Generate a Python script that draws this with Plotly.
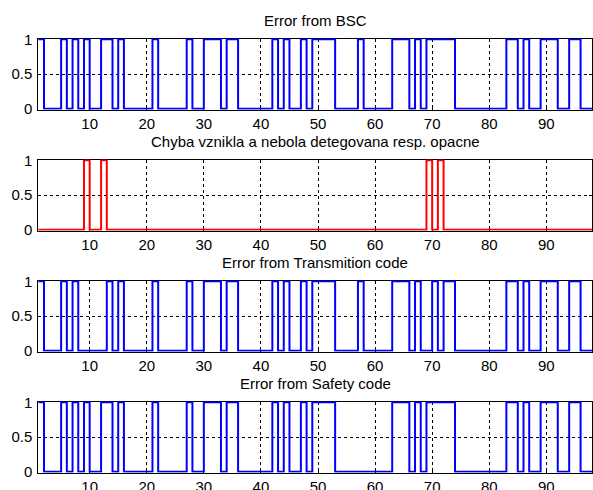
import plotly.graph_objects as go

# sample index (stairs)
samples = list(range(1, 99))

err_bsc = [1,0,0,0,1,0,1,0,1,0,
           0,1,1,0,1,0,0,0,0,0,
           1,0,0,0,0,0,1,0,0,1,
           1,1,0,1,1,0,0,0,0,0,
           0,1,0,1,0,0,1,0,1,1,
           1,1,0,0,0,0,1,0,0,0,
           0,0,1,1,1,0,1,0,1,1,
           1,1,1,0,0,0,0,0,0,0,
           0,0,1,1,0,1,0,0,1,1,
           1,0,0,1,1,0,0,0]

err_undetected = [0,0,0,0,0,0,0,0,1,0,
                  0,1,0,0,0,0,0,0,0,0,
                  0,0,0,0,0,0,0,0,0,0,
                  0,0,0,0,0,0,0,0,0,0,
                  0,0,0,0,0,0,0,0,0,0,
                  0,0,0,0,0,0,0,0,0,0,
                  0,0,0,0,0,0,0,0,1,0,
                  1,0,0,0,0,0,0,0,0,0,
                  0,0,0,0,0,0,0,0,0,0,
                  0,0,0,0,0,0,0,0]

err_transmition = [1,0,0,0,1,0,1,0,0,0,
                   0,0,1,0,1,0,0,0,0,0,
                   1,0,0,0,0,0,1,0,0,1,
                   1,1,0,1,1,0,0,0,0,0,
                   0,1,0,1,0,0,1,0,1,1,
                   1,1,0,0,0,0,1,0,0,0,
                   0,0,1,1,1,0,1,0,0,1,
                   0,1,1,0,0,0,0,0,0,0,
                   0,0,1,1,0,1,0,0,1,1,
                   1,0,0,1,1,0,0,0]

err_safety = [1,0,0,0,1,0,1,0,1,0,
              0,1,1,0,1,0,0,0,0,0,
              1,0,0,0,0,0,1,0,0,1,
              1,1,0,1,1,0,0,0,0,0,
              0,1,0,1,0,0,1,0,1,1,
              1,1,0,0,0,0,0,0,0,0,
              0,0,1,1,1,0,1,0,1,1,
              1,1,1,0,0,0,0,0,0,0,
              0,0,1,1,0,1,0,0,1,1,
              1,0,0,1,1,0,0,0]

titles = ["Error from BSC",
          "Chyba vznikla a nebola detegovana resp. opacne",
          "Error from Transmition code",
          "Error from Safety code"]
series = [err_bsc, err_undetected, err_transmition, err_safety]
colors = ["#0000FF", "#FF0000", "#0000FF", "#0000FF"]

x_ticks = [10, 20, 30, 40, 50, 60, 70, 80, 90]
y_ticks = [0, 0.5, 1]
y_ticktext = ["0", "0.5", "1"]

W, H = 593, 490
x_left, x_right = 38.3, 592.0
panel_tops = [38.5, 159.5, 280.5, 401.5]
panel_h = 71.0

font = dict(family="Liberation Sans, Arial, sans-serif", size=15, color="black")

fig = go.Figure()
layout = dict(
    width=W, height=H,
    margin=dict(l=0, r=0, t=0, b=0, autoexpand=False),
    paper_bgcolor="white", plot_bgcolor="white",
    showlegend=False,
    font=font,
    annotations=[],
)

for i, (vals, col, ttl) in enumerate(zip(series, colors, titles)):
    n = "" if i == 0 else str(i + 1)
    fig.add_trace(go.Scatter(
        x=samples, y=vals, mode="lines",
        line=dict(color=col, width=2, shape="hv"),
        xaxis="x" + n, yaxis="y" + n, hoverinfo="skip",
    ))
    top = panel_tops[i]
    y0 = 1 - (top + panel_h) / H
    y1 = 1 - top / H
    layout["xaxis" + n] = dict(
        domain=[x_left / W, x_right / W], range=[1, 98],
        anchor="y" + n, tickvals=x_ticks, ticks="inside", ticklen=3,
        tickcolor="black", automargin=False,
        showline=True, linecolor="black", linewidth=1, mirror="ticks",
        showgrid=True, gridcolor="black", griddash="3px,3px", gridwidth=1,
        zeroline=False, tickfont=font, ticklabelstandoff=0,
        layer="below traces",
    )
    layout["yaxis" + n] = dict(
        domain=[y0, y1], range=[-0.012, 1.012],
        anchor="x" + n, tickvals=y_ticks, ticktext=y_ticktext,
        ticks="inside", ticklen=3, tickcolor="black", automargin=False,
        showline=True, linecolor="black", linewidth=1, mirror="ticks",
        showgrid=True, gridcolor="black", griddash="3px,3px", gridwidth=1,
        zeroline=False, tickfont=font, ticklabelstandoff=2,
        layer="below traces",
    )
    layout["annotations"].append(dict(
        text=ttl, xref="paper", yref="paper",
        x=(x_left + x_right) / 2 / W, y=y1, xanchor="center", yanchor="middle",
        yshift=18, showarrow=False, font=font,
    ))

fig.update_layout(**layout)
fig.write_html(
    "out.html",
    config={"displayModeBar": False},
    post_script="document.body.style.margin='0px';document.body.style.overflow='hidden';",
)
